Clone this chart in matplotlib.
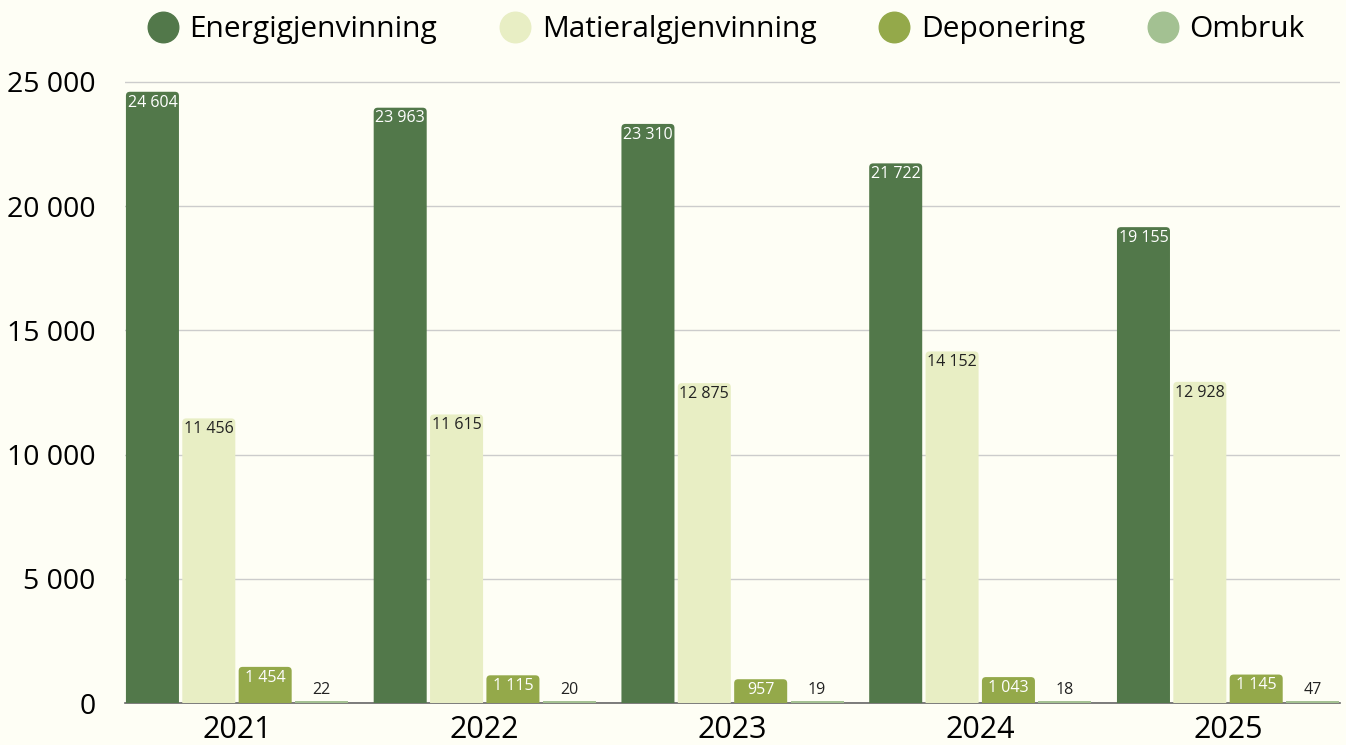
import matplotlib
matplotlib.use("Agg")
import matplotlib.pyplot as plt
import numpy as np
from matplotlib.lines import Line2D
from matplotlib.patches import FancyBboxPatch

plt.rcParams['font.family'] = ['Open Sans', 'DejaVu Sans']

years = ["2021", "2022", "2023", "2024", "2025"]
series_names = ["Energigjenvinning", "Matieralgjenvinning", "Deponering", "Ombruk"]
energi = [24604, 23963, 23310, 21722, 19155]
materiale = [11456, 11615, 12875, 14152, 12928]
deponering = [1454, 1115, 957, 1043, 1145]
ombruk = [22, 20, 19, 18, 47]
colors = ["#52784A", "#E8EEC4", "#94A94A", "#A3C192"]
label_colors = ["white", "#222222", "white", "#222222"]
yticks = [0, 5000, 10000, 15000, 20000, 25000]

def fmt(v):
    return f"{v:,}".replace(",", " ")

bg = "#FEFEF5"
W, H = 1346, 745
fig = plt.figure(figsize=(W/100, H/100), dpi=100, facecolor=bg)
ax_px = [125, 42, 1215, 631]
ax = fig.add_axes([ax_px[0]/W, ax_px[1]/H, ax_px[2]/W, ax_px[3]/H])
ax.set_facecolor(bg)

xlim = (-0.452, len(years) - 1 + 0.452)
ylim = (0, 25400)
ax.set_xlim(*xlim)
ax.set_ylim(*ylim)
xu = (xlim[1] - xlim[0]) / ax_px[2]   # data x per px
yu = (ylim[1] - ylim[0]) / ax_px[3]   # data y per px
rpx = 4

data = [energi, materiale, deponering, ombruk]
x = np.arange(len(years))
step = 0.2275
width = 0.214
offsets = [-1.5*step, -0.5*step, 0.5*step, 1.5*step]

for i, (vals, c) in enumerate(zip(data, colors)):
    bars = ax.bar(x + offsets[i], vals, width=width, color=c, zorder=3)
    for b, v in zip(bars, vals):
        bx, bw = b.get_x(), b.get_width()
        cx = bx + bw/2
        if i == 3:
            # tiny bars: draw as thin line at baseline
            b.set_height(max(v, 2 * yu))
        else:
            b.set_visible(False)
            ext = rpx * yu * 1.5
            p = FancyBboxPatch((bx, -ext), bw, v + ext,
                               boxstyle=f"round,pad=0,rounding_size={rpx*xu}",
                               mutation_aspect=yu/xu, facecolor=c, edgecolor="none",
                               zorder=3, clip_on=True)
            ax.add_patch(p)
        if i == 3:
            ax.annotate(fmt(v), (cx, v), xytext=(0, 3), textcoords="offset points",
                        ha="center", va="bottom", fontsize=11.5, color=label_colors[i], zorder=4)
        else:
            ax.annotate(fmt(v), (cx, v), xytext=(0, -2), textcoords="offset points",
                        ha="center", va="top", fontsize=11.5, color=label_colors[i], zorder=4)

ax.set_yticks(yticks)
ax.set_yticklabels([fmt(v) for v in yticks], fontsize=20.5)
ax.set_xticks(x)
ax.set_xticklabels(years, fontsize=22)
ax.tick_params(axis='x', length=0, pad=9)
ax.tick_params(axis='y', length=0, pad=21)
for s in ["top", "right", "left"]:
    ax.spines[s].set_visible(False)
ax.spines["bottom"].set_color("#666666")
ax.spines["bottom"].set_linewidth(1.2)
ax.spines["bottom"].set_zorder(2)
ax.yaxis.grid(True, color="#CCCCCC", linewidth=1, zorder=0)
ax.set_axisbelow(True)

handles = [Line2D([], [], marker="o", linestyle="", markersize=22, color=c) for c in colors]
fig.legend(handles, series_names, loc="upper center", bbox_to_anchor=(0.534, 1.016),
           ncol=4, frameon=False, fontsize=21.5, handletextpad=-0.1, columnspacing=1.6)

fig.savefig("out.png", dpi=100, facecolor=bg)
